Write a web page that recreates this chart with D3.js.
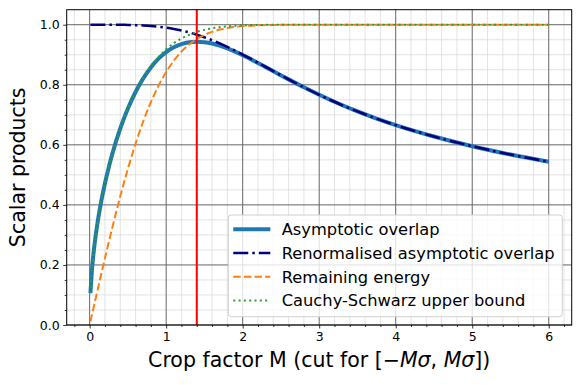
<!DOCTYPE html>
<html lang="en">
<head>
    <meta charset="UTF-8">
    <title>Scalar products vs crop factor</title>
    <script src="https://d3js.org/d3.v7.min.js"></script>
    <style>
        body {
            margin: 0;
            padding: 0;
            background-color: white;
        }
        svg text {
            font-family: 'DejaVu Sans', sans-serif;
            fill: #000;
        }
        .minor-grid line {
            stroke: #dcdcdc;
            stroke-width: 0.8px;
        }
        .major-grid line {
            stroke: #666;
            stroke-width: 1px;
        }
    </style>
</head>
<body>
    <div id="chart"></div>

    <script>
        // Values
        const cropFactor = [0.01, 0.03, 0.06, 0.1, 0.15, 0.2, 0.25, 0.3, 0.4, 0.5, 0.6, 0.7, 0.8, 0.9,
            1.0, 1.1, 1.2, 1.3, 1.4, 1.5, 1.6, 1.7, 1.8, 1.9, 2.0, 2.2, 2.4, 2.6, 2.8, 3.0,
            3.25, 3.5, 3.75, 4.0, 4.5, 5.0, 5.5, 6.0];
        const asymptoticOverlap = [0.1062, 0.1840, 0.2600, 0.3354, 0.4099, 0.4719, 0.5257, 0.5732, 0.6543, 0.7210,
            0.7760, 0.8212, 0.8578, 0.8868, 0.9089, 0.9250, 0.9356, 0.9416, 0.9435, 0.9418, 0.9372, 0.9301,
            0.9210, 0.9104, 0.8986, 0.8726, 0.8453, 0.8180, 0.7916, 0.7666, 0.7376, 0.7113, 0.6874, 0.6656,
            0.6276, 0.5954, 0.5677, 0.5435];
        const renormalisedOverlap = [1.0, 1.0, 1.0, 1.0, 1.0, 1.0, 1.0, 0.9999, 0.9997, 0.9993,
            0.9986, 0.9975, 0.9958, 0.9933, 0.9901, 0.9859, 0.9807, 0.9743, 0.9668, 0.9582, 0.9485, 0.9377,
            0.9261, 0.9137, 0.9007, 0.8734, 0.8456, 0.8181, 0.7916, 0.7666, 0.7376, 0.7113, 0.6874, 0.6656,
            0.6276, 0.5954, 0.5677, 0.5435];
        const remainingEnergy = [0.0113, 0.0338, 0.0676, 0.1125, 0.1680, 0.2227, 0.2763, 0.3286, 0.4284, 0.5205,
            0.6039, 0.6778, 0.7421, 0.7969, 0.8427, 0.8802, 0.9103, 0.9340, 0.9523, 0.9661, 0.9763, 0.9838,
            0.9891, 0.9928, 0.9953, 0.9981, 0.9993, 0.9998, 0.9999, 1.0, 1.0, 1.0, 1.0, 1.0,
            1.0, 1.0, 1.0, 1.0];
        const cauchySchwarzBound = [0.1062, 0.1840, 0.2600, 0.3354, 0.4099, 0.4719, 0.5257, 0.5733, 0.6545, 0.7215,
            0.7771, 0.8233, 0.8615, 0.8927, 0.9180, 0.9382, 0.9541, 0.9664, 0.9759, 0.9829, 0.9881, 0.9919,
            0.9945, 0.9964, 0.9977, 0.9991, 0.9997, 0.9999, 1.0, 1.0, 1.0, 1.0, 1.0, 1.0,
            1.0, 1.0, 1.0, 1.0];
        const markedCrop = 1.4;
        const xTicks = [0, 1, 2, 3, 4, 5, 6];
        const yTicks = [0.0, 0.2, 0.4, 0.6, 0.8, 1.0];

        const seriesInfo = [
            { name: "Asymptotic overlap", values: asymptoticOverlap, color: "#1f77b4", width: 4, dash: null },
            { name: "Renormalised asymptotic overlap", values: renormalisedOverlap, color: "#000080", width: 2.5, dash: "15,4,2.5,4" },
            { name: "Remaining energy", values: remainingEnergy, color: "#ff7f0e", width: 2, dash: "7.4,3.2" },
            { name: "Cauchy-Schwarz upper bound", values: cauchySchwarzBound, color: "#2ca02c", width: 2, dash: "2,3.3" }
        ];

        const width = 581, height = 385;
        const margin = { top: 9.7, right: 9.3, bottom: 60, left: 66.7 };
        const plotW = width - margin.left - margin.right;
        const plotH = height - margin.top - margin.bottom;

        const svg = d3.select("#chart")
            .append("svg")
            .attr("width", width)
            .attr("height", height);

        const g = svg.append("g")
            .attr("transform", `translate(${margin.left},${margin.top})`);

        const x = d3.scaleLinear().domain([-0.3, 6.3]).range([0, plotW]);
        const y = d3.scaleLinear().domain([0, 1.05]).range([plotH, 0]);

        // grid
        const xMinor = d3.range(-0.2, 6.3, 0.2).map(v => +v.toFixed(1)).filter(v => !xTicks.includes(v));
        const yMinor = d3.range(0.05, 1.05, 0.05).map(v => +v.toFixed(2)).filter(v => !yTicks.includes(v));

        const minor = g.append("g").attr("class", "minor-grid");
        minor.selectAll("line.vx").data(xMinor).enter().append("line")
            .attr("x1", d => x(d)).attr("x2", d => x(d)).attr("y1", 0).attr("y2", plotH);
        minor.selectAll("line.hy").data(yMinor).enter().append("line")
            .attr("x1", 0).attr("x2", plotW).attr("y1", d => y(d)).attr("y2", d => y(d));

        const major = g.append("g").attr("class", "major-grid");
        major.selectAll("line.vx").data(xTicks).enter().append("line")
            .attr("x1", d => x(d)).attr("x2", d => x(d)).attr("y1", 0).attr("y2", plotH);
        major.selectAll("line.hy").data(yTicks).enter().append("line")
            .attr("x1", 0).attr("x2", plotW).attr("y1", d => y(d)).attr("y2", d => y(d));

        // curves
        const line = d3.line()
            .x((d, i) => x(cropFactor[i]))
            .y(d => y(d))
            .curve(d3.curveMonotoneX);

        seriesInfo.forEach(s => {
            g.append("path")
                .datum(s.values)
                .attr("fill", "none")
                .attr("stroke", s.color)
                .attr("stroke-width", s.width)
                .attr("stroke-dasharray", s.dash)
                .attr("d", line);
        });

        // marked crop factor
        g.append("line")
            .attr("x1", x(markedCrop)).attr("x2", x(markedCrop))
            .attr("y1", 0).attr("y2", plotH)
            .attr("stroke", "red")
            .attr("stroke-width", 2);

        // axes
        const xAxis = g.append("g")
            .attr("transform", `translate(0,${plotH})`)
            .call(d3.axisBottom(x).tickValues(xTicks).tickFormat(d3.format("d")).tickSize(3.5).tickPadding(3.5));
        const xAxisMinor = g.append("g")
            .attr("transform", `translate(0,${plotH})`)
            .call(d3.axisBottom(x).tickValues(xMinor).tickFormat("").tickSize(2));
        const yAxis = g.append("g")
            .call(d3.axisLeft(y).tickValues(yTicks).tickFormat(d3.format(".1f")).tickSize(3.5).tickPadding(3.5));
        const yAxisMinor = g.append("g")
            .call(d3.axisLeft(y).tickValues(yMinor).tickFormat("").tickSize(2));

        [xAxis, xAxisMinor, yAxis, yAxisMinor].forEach(a => {
            a.select(".domain").remove();
            a.selectAll("line").attr("stroke", "#000").attr("stroke-width", 0.8);
            a.selectAll("text").attr("font-size", "12.5px").attr("font-family", "'DejaVu Sans', sans-serif");
        });

        // frame
        g.append("rect")
            .attr("width", plotW).attr("height", plotH)
            .attr("fill", "none")
            .attr("stroke", "#000")
            .attr("stroke-width", 1);

        // axis labels
        const xl = svg.append("text")
            .attr("x", margin.left + plotW / 2)
            .attr("y", 367)
            .attr("text-anchor", "middle")
            .attr("font-size", "20.5px");
        xl.append("tspan").text("Crop factor M (cut for [\u2212");
        xl.append("tspan").attr("font-style", "italic").text("M\u03c3");
        xl.append("tspan").text(", ");
        xl.append("tspan").attr("font-style", "italic").text("M\u03c3");
        xl.append("tspan").text("])");

        svg.append("text")
            .attr("transform", `translate(25,${margin.top + plotH / 2}) rotate(-90)`)
            .attr("text-anchor", "middle")
            .attr("font-size", "20.5px")
            .text("Scalar products");

        // legend
        const legend = svg.append("g").attr("transform", "translate(228.3,215)");
        legend.append("rect")
            .attr("width", 334).attr("height", 101.7)
            .attr("rx", 3)
            .attr("fill", "white").attr("fill-opacity", 0.8)
            .attr("stroke", "#d0d0d0").attr("stroke-width", 1);

        const rows = legend.selectAll("g.row")
            .data(seriesInfo)
            .enter().append("g")
            .attr("transform", (d, i) => `translate(0,${14.3 + i * 23.7})`);

        rows.append("line")
            .attr("x1", 5).attr("x2", 42)
            .attr("stroke", d => d.color)
            .attr("stroke-width", d => d.width)
            .attr("stroke-dasharray", d => d.dash);

        rows.append("text")
            .attr("x", 53.4)
            .attr("dy", "0.36em")
            .attr("font-size", "16.3px")
            .text(d => d.name);
    </script>
</body>
</html>
